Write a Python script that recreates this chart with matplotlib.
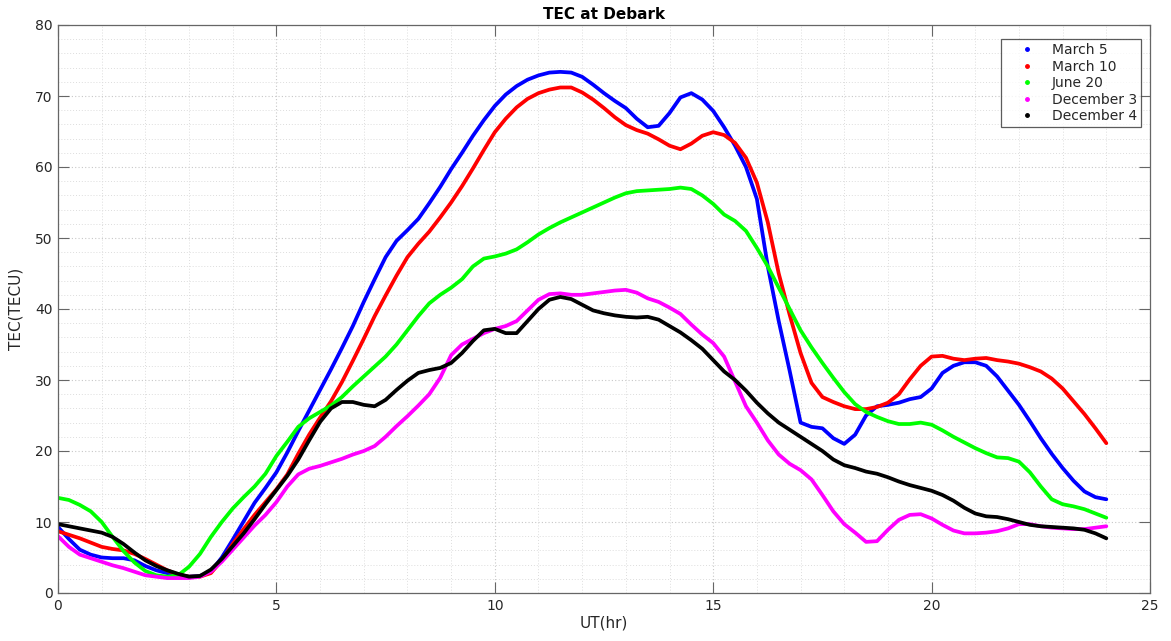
import matplotlib
matplotlib.use("Agg")
import matplotlib.pyplot as plt
from matplotlib.lines import Line2D
from matplotlib.ticker import MultipleLocator

# Universal time (hours), quarter-hour sampling
hours = [i * 0.25 for i in range(97)]

march5 = [9.3, 7.6, 6.1, 5.4, 5.0, 4.9, 4.9, 4.6,
          3.8, 3.2, 2.8, 2.5, 2.3, 2.4, 3.0, 5.0,
          7.5, 10.1, 12.7, 14.8, 17.0, 19.8, 22.8, 25.7,
          28.6, 31.5, 34.5, 37.6, 41.0, 44.2, 47.3, 49.6,
          51.1, 52.7, 54.9, 57.2, 59.7, 62.0, 64.4, 66.6,
          68.6, 70.2, 71.4, 72.3, 72.9, 73.3, 73.4, 73.3,
          72.7, 71.6, 70.4, 69.3, 68.3, 66.8, 65.6, 65.8,
          67.6, 69.8, 70.4, 69.5, 67.9, 65.6, 63.0, 60.0,
          55.5, 46.0, 38.3, 31.3, 24.0, 23.4, 23.2, 21.8,
          21.0, 22.3, 25.0, 26.3, 26.5, 26.8, 27.3, 27.6,
          28.8, 31.0, 32.0, 32.5, 32.5, 32.0, 30.5, 28.5,
          26.5, 24.2, 21.8, 19.6, 17.6, 15.8, 14.3, 13.5,
          13.2]

march10 = [8.7, 8.2, 7.7, 7.1, 6.5, 6.2, 6.0, 5.5,
           4.8, 4.0, 3.2, 2.6, 2.3, 2.3, 2.8, 4.6,
           6.9, 9.0, 11.0, 12.8, 14.6, 16.7, 19.6, 22.3,
           24.7, 27.0, 29.7, 32.7, 35.8, 39.0, 41.9, 44.7,
           47.3, 49.2, 50.9, 52.9, 55.0, 57.3, 59.8, 62.4,
           64.9, 66.8, 68.4, 69.6, 70.4, 70.9, 71.2, 71.2,
           70.5, 69.5, 68.3, 67.0, 65.9, 65.2, 64.7, 63.9,
           63.0, 62.5, 63.3, 64.4, 64.9, 64.5, 63.4, 61.3,
           57.8, 52.2, 45.0, 39.2, 33.8, 29.6, 27.6, 26.9,
           26.3, 25.9, 25.9, 26.2, 26.8, 28.0, 30.1, 32.0,
           33.3, 33.4, 33.0, 32.8, 33.0, 33.1, 32.8, 32.6,
           32.3, 31.8, 31.2, 30.2, 28.8, 27.0, 25.2, 23.2,
           21.1]

june20 = [13.4, 13.1, 12.4, 11.5, 10.0, 7.9, 5.9, 4.3,
          3.1, 2.5, 2.3, 2.5, 3.7, 5.5, 7.9, 10.0,
          11.9, 13.5, 15.0, 16.8, 19.3, 21.3, 23.4, 24.6,
          25.5, 26.4, 27.6, 29.1, 30.5, 31.9, 33.3, 35.0,
          37.0, 39.0, 40.8, 42.0, 43.0, 44.2, 46.0, 47.1,
          47.4, 47.8, 48.4, 49.4, 50.5, 51.4, 52.2, 52.9,
          53.6, 54.3, 55.0, 55.7, 56.3, 56.6, 56.7, 56.8,
          56.9, 57.1, 56.9, 56.0, 54.8, 53.3, 52.4, 51.0,
          48.6, 46.0, 43.0, 40.0, 37.0, 34.6, 32.4, 30.3,
          28.3, 26.6, 25.5, 24.8, 24.2, 23.8, 23.8, 24.0,
          23.7, 22.9, 22.0, 21.2, 20.4, 19.7, 19.1, 19.0,
          18.5, 17.0, 15.0, 13.2, 12.5, 12.2, 11.8, 11.2,
          10.6]

december3 = [8.0, 6.5, 5.4, 4.9, 4.4, 3.9, 3.5, 3.0,
             2.5, 2.3, 2.1, 2.1, 2.1, 2.3, 3.0, 4.4,
             6.1, 7.8, 9.5, 11.0, 12.8, 15.0, 16.7, 17.5,
             17.9, 18.4, 18.9, 19.5, 20.0, 20.7, 22.0, 23.5,
             24.9, 26.4, 28.0, 30.3, 33.5, 35.0, 35.8, 36.6,
             37.2, 37.6, 38.3, 39.8, 41.3, 42.1, 42.2, 42.0,
             42.0, 42.2, 42.4, 42.6, 42.7, 42.3, 41.5, 41.0,
             40.2, 39.3, 37.8, 36.4, 35.2, 33.3, 29.8, 26.3,
             24.0, 21.5, 19.5, 18.2, 17.3, 16.0, 13.8, 11.5,
             9.7, 8.5, 7.2, 7.3, 8.9, 10.3, 11.0, 11.1,
             10.5, 9.6, 8.8, 8.4, 8.4, 8.5, 8.7, 9.1,
             9.7, 9.7, 9.4, 9.2, 9.1, 9.0, 9.0, 9.2,
             9.4]

december4 = [9.7, 9.4, 9.1, 8.8, 8.5, 7.9, 6.9, 5.7,
             4.6, 3.8, 3.2, 2.7, 2.3, 2.4, 3.3, 4.8,
             6.6, 8.4, 10.4, 12.5, 14.5, 16.5, 18.8, 21.5,
             24.1, 26.0, 26.9, 26.9, 26.5, 26.3, 27.2, 28.6,
             29.9, 31.0, 31.4, 31.7, 32.4, 33.8, 35.5, 37.0,
             37.2, 36.6, 36.6, 38.3, 40.0, 41.3, 41.7, 41.4,
             40.6, 39.8, 39.4, 39.1, 38.9, 38.8, 38.9, 38.5,
             37.6, 36.7, 35.6, 34.4, 32.8, 31.2, 30.0, 28.5,
             26.8, 25.3, 24.0, 23.0, 22.0, 21.0, 20.0, 18.8,
             18.0, 17.6, 17.1, 16.8, 16.3, 15.7, 15.2, 14.8,
             14.4, 13.8, 13.0, 12.0, 11.2, 10.8, 10.7, 10.4,
             10.0, 9.6, 9.4, 9.3, 9.2, 9.1, 8.9, 8.4,
             7.7]

series = [("March 5", march5, "#0000ff"),
          ("March 10", march10, "#ff0000"),
          ("June 20", june20, "#00ff00"),
          ("December 3", december3, "#ff00ff"),
          ("December 4", december4, "#000000")]

text_color = "#262626"
axis_color = "#666666"
plt.rcParams["font.family"] = ["DejaVu Sans"]

fig = plt.figure(figsize=(11.71, 6.41), dpi=100)
ax = fig.add_axes([58 / 1171, 48 / 641, 1092 / 1171, 568 / 641])

for label, values, color in series:
    ax.plot(hours, values, color=color, linewidth=2.7, solid_capstyle="round",
            solid_joinstyle="round")

ax.set_xlim(0, 25)
ax.set_ylim(0, 80)
ax.xaxis.set_major_locator(MultipleLocator(5))
ax.xaxis.set_minor_locator(MultipleLocator(1))
ax.yaxis.set_major_locator(MultipleLocator(10))
ax.yaxis.set_minor_locator(MultipleLocator(2))

ax.grid(which="major", linestyle=(0, (1, 2)), color="#c8c8c8", linewidth=0.8)
ax.grid(which="minor", linestyle=(0, (1, 2)), color="#dddddd", linewidth=0.7)
ax.set_axisbelow(True)

ax.tick_params(which="major", direction="in", length=8, width=0.8,
               top=True, right=True, colors=axis_color, labelcolor=text_color,
               labelsize=10, pad=4)
ax.tick_params(which="minor", length=0, top=True, right=True)
for spine in ax.spines.values():
    spine.set_color(axis_color)
    spine.set_linewidth(0.9)

ax.set_xlabel("UT(hr)", fontsize=11, color=text_color, labelpad=2)
ax.set_ylabel("TEC(TECU)", fontsize=11, color=text_color, labelpad=8)
ax.set_title("TEC at Debark", fontsize=11, fontweight="bold", color="#000000", pad=4)

handles = [Line2D([], [], marker=".", linestyle="none", color=c, markersize=5)
           for _, _, c in series]
leg = ax.legend(handles, [s[0] for s in series], loc="upper left",
                bbox_to_anchor=((1001 - 58) / 1092, (593 - 39) / 568),
                fontsize=10, frameon=True, fancybox=False, borderpad=0.3,
                labelspacing=0.18, handletextpad=0.25, handlelength=3.1,
                borderaxespad=0)
leg.get_frame().set_edgecolor("#333333")
leg.get_frame().set_linewidth(0.9)
for t in leg.get_texts():
    t.set_color(text_color)

fig.savefig("out.png", dpi=100)
